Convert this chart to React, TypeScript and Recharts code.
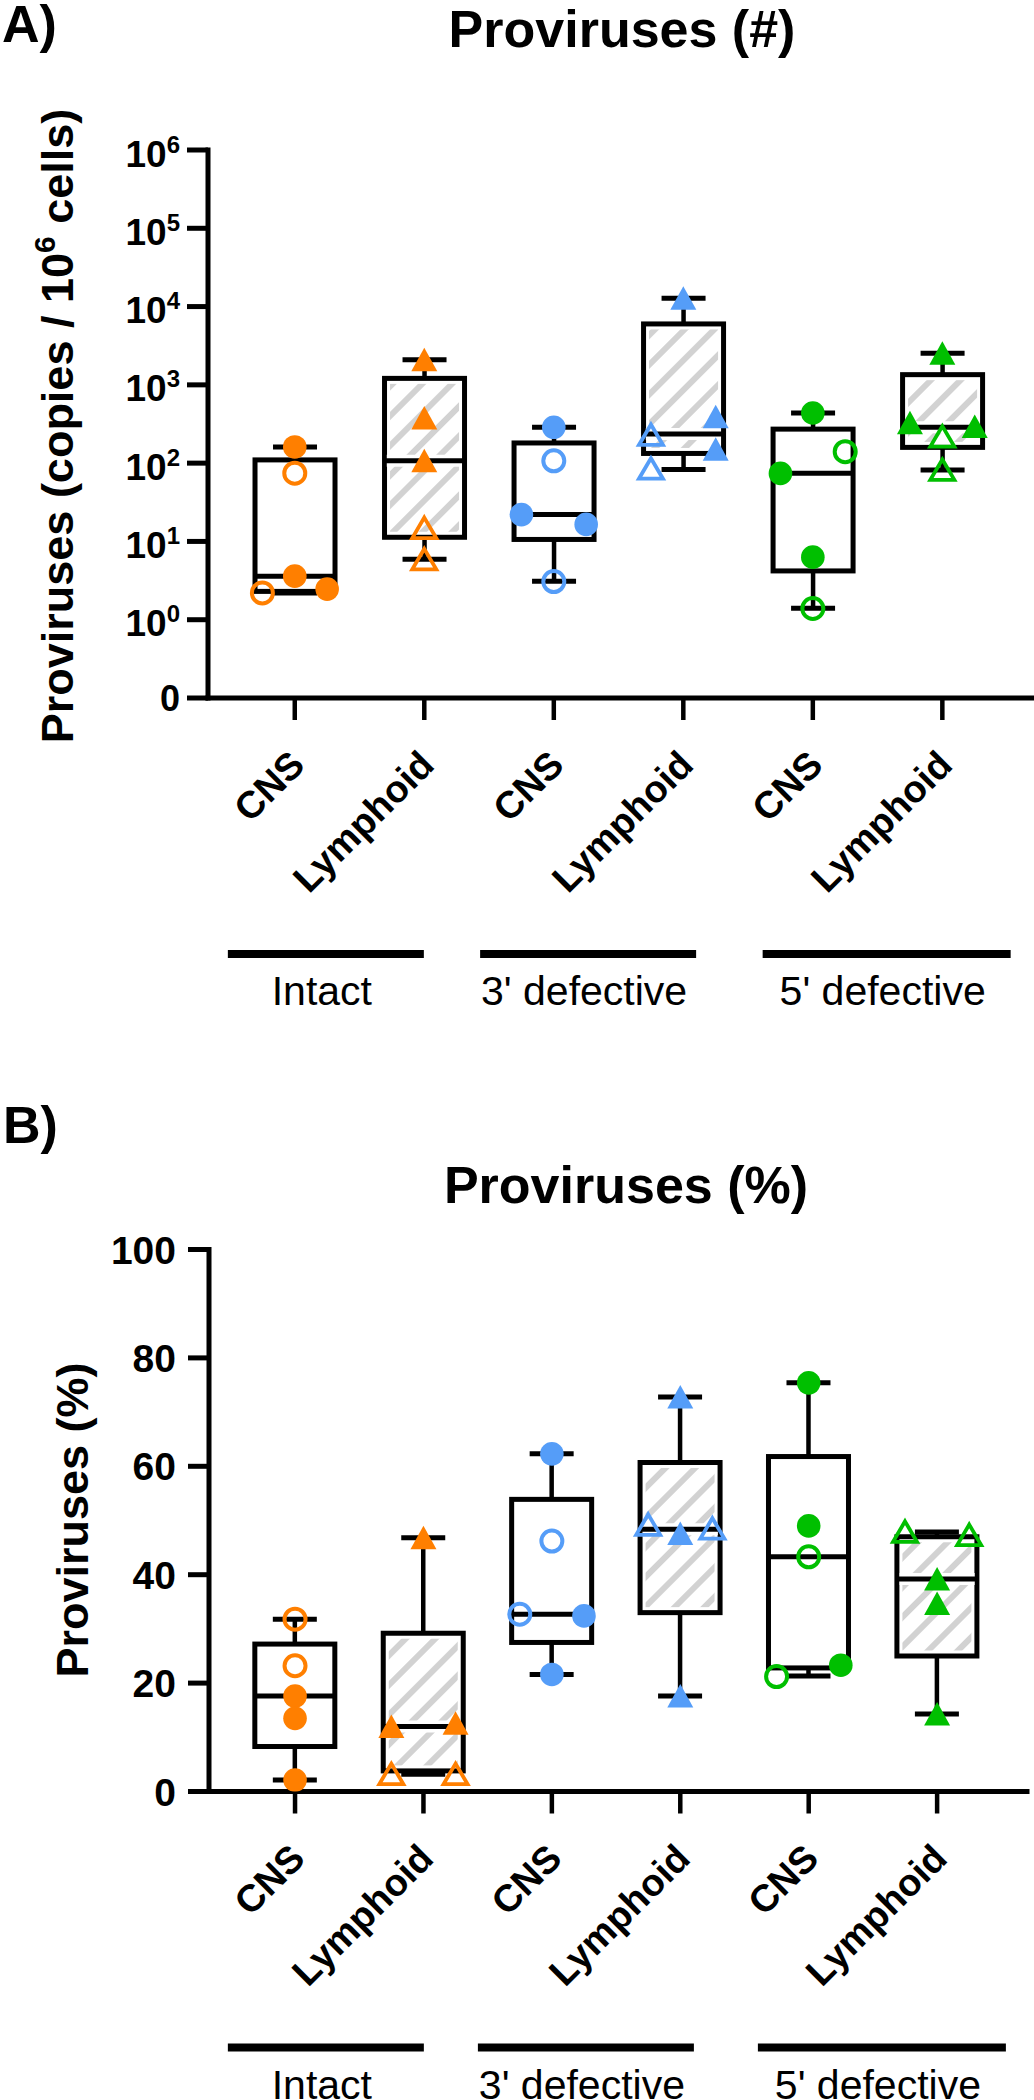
import React from 'react';
import { ComposedChart, Bar, Scatter, XAxis, YAxis } from 'recharts';

const FONT = '"Liberation Sans", Arial, Helvetica, sans-serif';

// categories along the x axis and the groups underneath them
const categories = ['CNS', 'Lymphoid', 'CNS', 'Lymphoid', 'CNS', 'Lymphoid'];
const groups = ['Intact', "3' defective", "5' defective"];
const groupOfCategory = [0, 0, 1, 1, 2, 2];

// A) proviruses, copies / 10^6 cells (box statistics)
const copiesMin = [2.2, 5.9, 3.1, 83, 1.4, 82];
const copiesQ1 = [2.3, 11.3, 10.6, 133, 4.2, 159];
const copiesMedian = [3.6, 107, 22, 236, 74.5, 287];
const copiesQ3 = [110, 1210, 181, 6000, 272, 1350];
const copiesMax = [161, 2100, 287, 12770, 437, 2540];

// individual animals: [category, value, open (1) / filled (0), column (-1 left, 0 centre, 1 right)]
const copiesPoints = [
  [0, 161, 0, 0], [0, 74.5, 1, 0], [0, 3.6, 0, 0], [0, 2.2, 1, -1], [0, 2.46, 0, 1],
  [1, 2100, 0, 0], [1, 376, 0, 0], [1, 107, 0, 0], [1, 14.8, 1, 0], [1, 5.9, 1, 0],
  [2, 287, 0, 0], [2, 107, 1, 0], [2, 22, 0, -1], [2, 16.5, 0, 1], [2, 3.07, 1, 0],
  [3, 12770, 0, 0], [3, 392, 0, 1], [3, 151, 0, 1], [3, 229, 1, -1], [3, 85, 1, -1],
  [4, 437, 0, 0], [4, 140, 1, 1], [4, 74, 0, -1], [4, 6.3, 0, 0], [4, 1.39, 1, 0],
  [5, 2540, 0, 0], [5, 328, 0, -1], [5, 294, 0, 1], [5, 218, 1, 0], [5, 82, 1, 0],
];

// B) proviruses, % (box statistics)
const pctMin = [2.1, 3.2, 21.6, 17.6, 21.3, 14.3];
const pctQ1 = [8.3, 3.8, 27.5, 33.0, 22.8, 25.0];
const pctMedian = [17.6, 12.0, 32.7, 48.4, 43.3, 39.2];
const pctQ3 = [27.2, 29.2, 53.9, 60.7, 61.8, 47.0];
const pctMax = [31.8, 46.8, 62.3, 72.8, 75.4, 47.9];

const pctPoints = [
  [0, 31.8, 1, 0], [0, 23.2, 1, 0], [0, 17.6, 0, 0], [0, 13.5, 0, 0], [0, 2.1, 0, 0],
  [1, 46.8, 0, 0], [1, 12.0, 0, -1], [1, 12.6, 0, 1], [1, 3.2, 1, -1], [1, 3.2, 1, 1],
  [2, 62.3, 0, 0], [2, 46.2, 1, 0], [2, 32.7, 1, -1], [2, 32.4, 0, 1], [2, 21.6, 0, 0],
  [3, 72.8, 0, 0], [3, 49.2, 1, -1], [3, 47.6, 0, 0], [3, 48.5, 1, 1], [3, 17.6, 0, 0],
  [4, 75.4, 0, 0], [4, 49.0, 0, 0], [4, 43.3, 1, 0], [4, 23.3, 0, 1], [4, 21.2, 1, -1],
  [5, 47.9, 1, -1], [5, 47.3, 1, 1], [5, 39.2, 0, 0], [5, 34.7, 0, 0], [5, 14.3, 0, 0],
];

const logTicks = [0.1, 1, 10, 100, 1000, 10000, 100000, 1000000];
const pctTicks = [0, 20, 40, 60, 80, 100];

// layout / style
const GROUP_COLORS = ['#FF7F00', '#559DF8', '#00BF00'];
const X_DOMAIN = [0.33, 6.7];
const CAT_TICKS = [1, 2, 3, 4, 5, 6];
const COLUMN_STEP = 0.25;
const GROUP_SPAN = [[0.48, 2.0], [2.43, 4.1], [4.61, 6.53]];
const GROUP_CENTERS = GROUP_SPAN.map(([a, b]) => (a + b) / 2);
const GROUP_HALF = [98, 108, 124];
const BOX_HALF = 40;
const CAP_HALF = 22;
const AXIS = { stroke: '#000', strokeWidth: 5, strokeLinecap: 'square' as const };

const toRows = (min: number[], q1: number[], med: number[], q3: number[], max: number[]) =>
  categories.map((tissue, i) => ({
    x: i + 1,
    whisker: [min[i], max[i]],
    box: [q1[i], q3[i]],
    med: med[i],
    tissue,
  }));

const toPoints = (pts: number[][]) =>
  pts.map(([cat, value, open, column]) => ({
    x: cat + 1 + column * COLUMN_STEP,
    y: value,
    open: open === 1,
    cat,
  }));

const WhiskerShape = (props: any) => {
  const { x, y, width, height } = props;
  const cx = x + width / 2;
  const top = Math.min(y, y + height);
  const bottom = Math.max(y, y + height);
  return (
    <g stroke="#000">
      <line x1={cx} x2={cx} y1={top} y2={bottom} strokeWidth={4.5} />
      <line x1={cx - CAP_HALF} x2={cx + CAP_HALF} y1={top} y2={top} strokeWidth={5} />
      <line x1={cx - CAP_HALF} x2={cx + CAP_HALF} y1={bottom} y2={bottom} strokeWidth={5} />
    </g>
  );
};

const makeBoxShape = (hatchId: string) => (props: any) => {
  const { x, y, width, height, payload } = props;
  const cx = x + width / 2;
  const top = Math.min(y, y + height);
  const h = Math.abs(height);
  const hatched = payload.tissue === 'Lymphoid';
  return (
    <g>
      <rect x={cx - BOX_HALF} y={top} width={BOX_HALF * 2} height={h} fill="#fff" stroke="#000" strokeWidth={5} />
      {hatched && (
        <rect
          x={cx - BOX_HALF + 5.5}
          y={top + 5.5}
          width={BOX_HALF * 2 - 11}
          height={Math.max(0, h - 11)}
          fill={`url(#${hatchId})`}
        />
      )}
    </g>
  );
};

const MedianShape = (props: any) => {
  const { cx, cy, payload } = props;
  return (
    <g>
      {payload.tissue === 'Lymphoid' && (
        <line x1={cx - BOX_HALF + 2.5} x2={cx + BOX_HALF - 2.5} y1={cy} y2={cy} stroke="#fff" strokeWidth={12} />
      )}
      <line x1={cx - BOX_HALF} x2={cx + BOX_HALF} y1={cy} y2={cy} stroke="#000" strokeWidth={5} />
    </g>
  );
};

const PointShape = (props: any) => {
  const { cx, cy, payload } = props;
  const color = GROUP_COLORS[groupOfCategory[payload.cat]];
  const circle = categories[payload.cat] === 'CNS';
  if (circle) {
    return payload.open ? (
      <circle cx={cx} cy={cy} r={10.5} fill="none" stroke={color} strokeWidth={4} />
    ) : (
      <circle cx={cx} cy={cy} r={11.8} fill={color} />
    );
  }
  if (payload.open) {
    const pts = `${cx},${cy - 10.5} ${cx + 12},${cy + 10} ${cx - 12},${cy + 10}`;
    return <polygon points={pts} fill="none" stroke={color} strokeWidth={3.8} />;
  }
  const pts = `${cx},${cy - 12} ${cx + 13},${cy + 11.5} ${cx - 13},${cy + 11.5}`;
  return <polygon points={pts} fill={color} />;
};

const CategoryTick = (props: any) => {
  const { x, y, payload } = props;
  const label = categories[Math.round(payload.value) - 1];
  return (
    <text
      transform={`translate(${x + 12},${y + 47}) rotate(-45)`}
      textAnchor="end"
      fontFamily={FONT}
      fontSize={38}
      fontWeight={700}
      fill="#000"
    >
      {label}
    </text>
  );
};

const GroupTick = (props: any) => {
  const { x, y, payload } = props;
  let i = 0;
  GROUP_CENTERS.forEach((c, k) => {
    if (Math.abs(c - payload.value) < Math.abs(GROUP_CENTERS[i] - payload.value)) i = k;
  });
  const half = GROUP_HALF[i];
  return (
    <g>
      <line x1={x - half} x2={x + half} y1={y + 20} y2={y + 20} stroke="#000" strokeWidth={8} />
      <text x={x - 4} y={y + 71} textAnchor="middle" fontFamily={FONT} fontSize={41} fill="#000">
        {groups[i]}
      </text>
    </g>
  );
};

const LogTick = (props: any) => {
  const { x, y, payload } = props;
  if (payload.value < 1) {
    return (
      <text x={x} y={y + 12.5} textAnchor="end" fontFamily={FONT} fontSize={36} fontWeight={700} fill="#000">
        0
      </text>
    );
  }
  const exp = Math.round(Math.log10(payload.value));
  return (
    <text x={x} y={y + 16.5} textAnchor="end" fontFamily={FONT} fontSize={37} fontWeight={700} fill="#000">
      10
      <tspan dy={-14} fontSize={24}>
        {exp}
      </tspan>
    </text>
  );
};

const PctTick = (props: any) => {
  const { x, y, payload } = props;
  return (
    <text x={x} y={y + 14} textAnchor="end" fontFamily={FONT} fontSize={39} fontWeight={700} fill="#000">
      {payload.value}
    </text>
  );
};

interface PanelProps {
  rows: any[];
  points: any[];
  hatchId: string;
  logScale: boolean;
  margin: { top: number; right: number; bottom: number; left: number };
  groupHeight: number;
  tickMargin: number;
}

const Panel = ({ rows, points, hatchId, logScale, margin, groupHeight, tickMargin }: PanelProps) => (
  <ComposedChart width={1034} height={1040} data={rows} margin={margin}>
    <defs>
      <pattern id={hatchId} patternUnits="userSpaceOnUse" width={21} height={21} patternTransform="rotate(45)">
        <rect x={0} y={0} width={21} height={21} fill="#fff" />
        <rect x={0} y={0} width={6} height={21} fill="#d2d2d2" />
      </pattern>
    </defs>
    {/* group axis declared first so it stacks under the category axis */}
    <XAxis
      xAxisId="b_grp"
      dataKey="x"
      type="number"
      domain={X_DOMAIN}
      ticks={GROUP_CENTERS}
      interval={0}
      allowDataOverflow
      height={groupHeight}
      tickSize={0}
      tickMargin={0}
      axisLine={false}
      tickLine={false}
      tick={<GroupTick />}
    />
    <XAxis
      xAxisId="a_cat"
      dataKey="x"
      type="number"
      domain={X_DOMAIN}
      ticks={CAT_TICKS}
      interval={0}
      allowDataOverflow
      height={236}
      tickSize={22}
      tickMargin={0}
      axisLine={AXIS}
      tickLine={{ stroke: '#000', strokeWidth: 4.5 }}
      tick={<CategoryTick />}
    />
    <XAxis xAxisId="whisker" dataKey="x" type="number" domain={X_DOMAIN} ticks={CAT_TICKS} allowDataOverflow hide />
    <XAxis xAxisId="box" dataKey="x" type="number" domain={X_DOMAIN} ticks={CAT_TICKS} allowDataOverflow hide />
    {logScale ? (
      <YAxis
        type="number"
        scale="log"
        domain={[0.1, 1000000]}
        ticks={logTicks}
        interval={0}
        allowDataOverflow
        width={100}
        tickSize={21}
        tickMargin={tickMargin}
        axisLine={AXIS}
        tickLine={{ stroke: '#000', strokeWidth: 5 }}
        tick={<LogTick />}
      />
    ) : (
      <YAxis
        type="number"
        domain={[0, 100]}
        ticks={pctTicks}
        interval={0}
        allowDataOverflow
        width={100}
        tickSize={21}
        tickMargin={tickMargin}
        axisLine={AXIS}
        tickLine={{ stroke: '#000', strokeWidth: 5 }}
        tick={<PctTick />}
      />
    )}
    <Bar xAxisId="whisker" dataKey="whisker" barSize={80} shape={WhiskerShape} isAnimationActive={false} />
    <Bar xAxisId="box" dataKey="box" barSize={80} shape={makeBoxShape(hatchId)} isAnimationActive={false} />
    <Scatter xAxisId="a_cat" data={rows} dataKey="med" shape={MedianShape} isAnimationActive={false} />
    <Scatter xAxisId="a_cat" data={points} dataKey="y" shape={PointShape} isAnimationActive={false} />
  </ComposedChart>
);

const copiesRows = toRows(copiesMin, copiesQ1, copiesMedian, copiesQ3, copiesMax);
const pctRows = toRows(pctMin, pctQ1, pctMedian, pctQ3, pctMax);

const App: React.FC = () => (
  <div style={{ position: 'absolute', left: 0, top: 0, width: 1034, height: 2100, background: '#fff', overflow: 'hidden' }}>
    <div style={{ position: 'absolute', left: 0, top: 0 }}>
      <Panel
        rows={copiesRows}
        points={toPoints(copiesPoints)}
        hatchId="hatchA"
        logScale
        margin={{ top: 150, right: 1, bottom: 0, left: 108 }}
        groupHeight={106}
        tickMargin={7}
      />
    </div>
    <div style={{ position: 'absolute', left: 0, top: 1060 }}>
      <Panel
        rows={pctRows}
        points={toPoints(pctPoints)}
        hatchId="hatchB"
        logScale={false}
        margin={{ top: 189.5, right: 7, bottom: 0, left: 109 }}
        groupHeight={72.5}
        tickMargin={12}
      />
    </div>
    <svg width={1034} height={2100} style={{ position: 'absolute', left: 0, top: 0, pointerEvents: 'none' }}>
      <g fontFamily={FONT} fontWeight={700} fill="#000">
        <text x={2} y={42} fontSize={52}>A)</text>
        <text x={622} y={47} fontSize={52} textAnchor="middle">Proviruses (#)</text>
        <text transform="translate(73,426) rotate(-90)" fontSize={45} textAnchor="middle">
          Proviruses (copies / 10
          <tspan dy={-18} fontSize={30}>6</tspan>
          <tspan dy={18}> cells)</tspan>
        </text>
        <text x={3} y={1143} fontSize={52}>B)</text>
        <text x={626} y={1203} fontSize={52} textAnchor="middle">Proviruses (%)</text>
        <text transform="translate(88,1520) rotate(-90)" fontSize={45} textAnchor="middle">
          Proviruses (%)
        </text>
      </g>
    </svg>
  </div>
);

export default App;
